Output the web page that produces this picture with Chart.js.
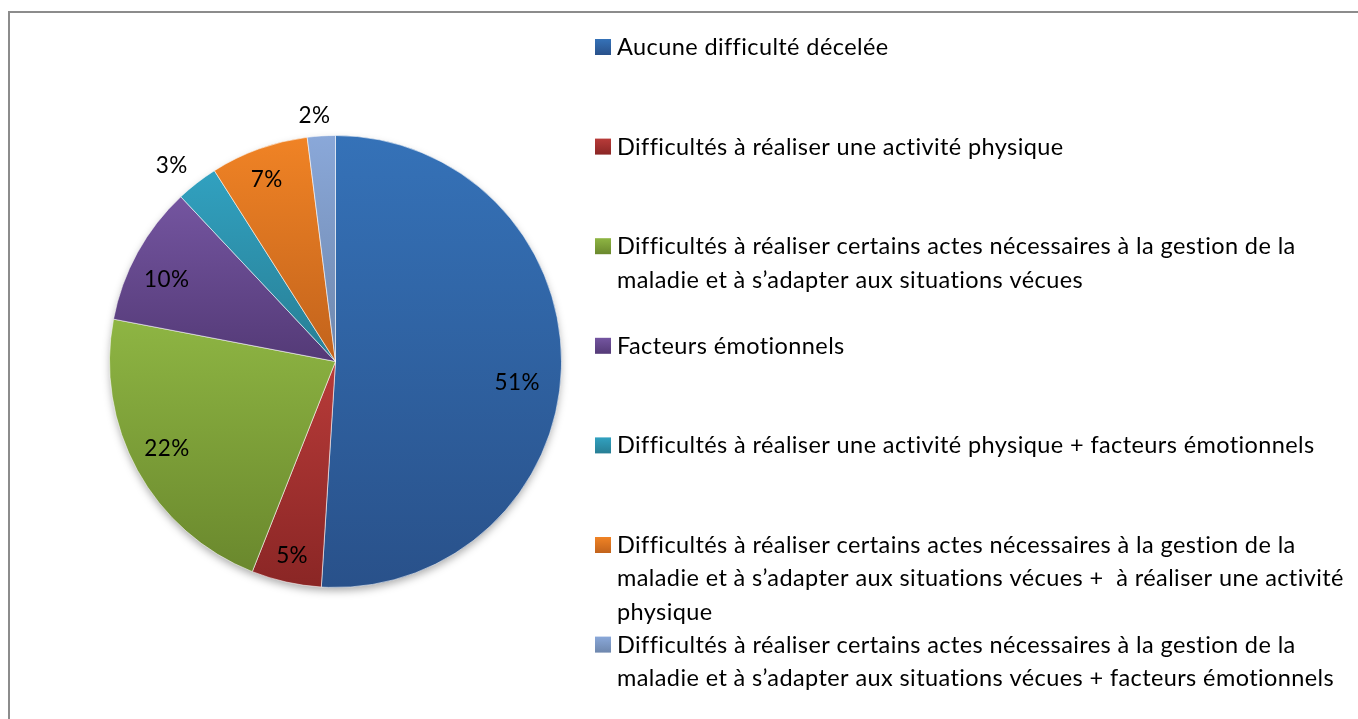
<!DOCTYPE html>
<html lang="fr">
<head>
<meta charset="utf-8">
<title>Difficultés décelées</title>
<script src="https://cdn.jsdelivr.net/npm/chart.js@4.4.0/dist/chart.umd.min.js"></script>
<style>
  html, body { margin: 0; padding: 0; background: #fff; }
  body { width: 1358px; height: 719px; position: relative; overflow: hidden; }
  #frame {
    position: absolute; left: 8px; top: 11px; right: -10px; bottom: -10px;
    border-left: 2px solid #8c8c8c; border-top: 2px solid #8c8c8c;
  }
  #wrap { position: absolute; left: 0; top: 0; width: 1358px; height: 719px; }
</style>
</head>
<body>
<div id="frame"></div>
<div id="wrap"><canvas id="difficultesChart"></canvas></div>
<script>
// categories, one array of legend lines per slice
const categories = [
  ['Aucune difficulté décelée'],
  ['Difficultés à réaliser une activité physique'],
  ['Difficultés à réaliser certains actes nécessaires à la gestion de la',
   'maladie et à s’adapter aux situations vécues'],
  ['Facteurs émotionnels'],
  ['Difficultés à réaliser une activité physique + facteurs émotionnels'],
  ['Difficultés à réaliser certains actes nécessaires à la gestion de la',
   'maladie et à s’adapter aux situations vécues +  à réaliser une activité',
   'physique'],
  ['Difficultés à réaliser certains actes nécessaires à la gestion de la',
   'maladie et à s’adapter aux situations vécues + facteurs émotionnels']
];
const percentages = [51, 5, 22, 10, 3, 7, 2];

// each slice fades from the first colour (top) to the second (bottom)
const topColors = ['#3572b8', '#b83b39', '#8eb543', '#7455a0', '#31a1c0', '#f08325', '#8aa8d9'];
const bottomColors = ['#29518a', '#8a2625', '#6a882d', '#543a77', '#287e94', '#c2631c', '#6e87ad'];

// label placement: distance from centre (fraction of radius) and angle nudge in degrees
const labelRadius = [0.81, 0.88, 0.84, 0.83, 1.13, 0.86, 1.09];
const labelNudge = [5, 0, 1.4, -2.9, -2.1, -0.9, -1.3];

const FONT = 'Lato, "Open Sans", sans-serif';
const total = percentages.reduce((a, b) => a + b, 0);

function sliceFill(context) {
  const chart = context.chart;
  const i = context.dataIndex;
  const area = chart.chartArea;
  if (!area) return topColors[i];
  const cx = (area.left + area.right) / 2;
  const cy = (area.top + area.bottom) / 2;
  const r = Math.min(area.right - area.left, area.bottom - area.top) / 2;
  let before = 0;
  for (let k = 0; k < i; k++) before += percentages[k];
  const a0 = -Math.PI / 2 + before / total * Math.PI * 2;
  const a1 = a0 + percentages[i] / total * Math.PI * 2;
  let minY = cy, maxY = cy;
  for (let t = 0; t <= 60; t++) {
    const y = cy + r * Math.sin(a0 + (a1 - a0) * t / 60);
    minY = Math.min(minY, y);
    maxY = Math.max(maxY, y);
  }
  const g = chart.ctx.createLinearGradient(0, minY, 0, maxY);
  g.addColorStop(0, topColors[i]);
  g.addColorStop(1, bottomColors[i]);
  return g;
}

// soft shadow under the whole pie
const pieShadow = {
  id: 'pieShadow',
  beforeDatasetsDraw(chart) {
    const arc = chart.getDatasetMeta(0).data[0];
    if (!arc) return;
    const { x, y, outerRadius } = arc.getProps(['x', 'y', 'outerRadius'], true);
    const ctx = chart.ctx;
    ctx.save();
    ctx.shadowColor = 'rgba(0,0,0,0.35)';
    ctx.shadowBlur = 9;
    ctx.shadowOffsetY = 4;
    ctx.fillStyle = '#fff';
    ctx.beginPath();
    ctx.arc(x, y, outerRadius - 1, 0, Math.PI * 2);
    ctx.fill();
    ctx.restore();
  }
};

// percentage labels, small slices get theirs outside the pie
const sliceLabels = {
  id: 'sliceLabels',
  afterDatasetsDraw(chart) {
    const ctx = chart.ctx;
    ctx.save();
    ctx.font = '22.5px ' + FONT;
    ctx.letterSpacing = '0.4px';
    ctx.fillStyle = '#000';
    ctx.textAlign = 'center';
    ctx.textBaseline = 'middle';
    chart.getDatasetMeta(0).data.forEach((arc, i) => {
      const p = arc.getProps(['x', 'y', 'startAngle', 'endAngle', 'outerRadius'], true);
      const mid = (p.startAngle + p.endAngle) / 2 + labelNudge[i] * Math.PI / 180;
      const d = p.outerRadius * labelRadius[i];
      ctx.fillText(percentages[i] + '%', p.x + Math.cos(mid) * d, p.y + Math.sin(mid) * d);
    });
    ctx.restore();
  }
};

// legend on the right, one slot of ~100px per entry
const sideLegend = {
  id: 'sideLegend',
  afterDraw(chart) {
    const ctx = chart.ctx;
    ctx.save();
    ctx.font = '23.5px ' + FONT;
    ctx.letterSpacing = '0.4px';
    ctx.textBaseline = 'alphabetic';
    categories.forEach((lines, i) => {
      const base = 55 + i * 99.6;
      const g = ctx.createLinearGradient(0, base - 16, 0, base);
      g.addColorStop(0, topColors[i]);
      g.addColorStop(1, bottomColors[i]);
      ctx.fillStyle = g;
      ctx.fillRect(595, base - 16, 16, 16);
      ctx.fillStyle = '#000';
      lines.forEach((line, j) => ctx.fillText(line, 617, base + j * 33.3));
    });
    ctx.restore();
  }
};

const ctx = document.getElementById('difficultesChart').getContext('2d');
new Chart(ctx, {
  type: 'pie',
  data: {
    labels: categories,
    datasets: [{
      data: percentages,
      backgroundColor: sliceFill,
      borderColor: 'rgba(255,255,255,0.55)',
      borderWidth: 1
    }]
  },
  options: {
    responsive: true,
    maintainAspectRatio: false,
    animation: false,
    events: [],
    layout: { padding: { left: 109, top: 135, right: 796, bottom: 131 } },
    plugins: {
      legend: { display: false },
      tooltip: { enabled: false }
    }
  },
  plugins: [pieShadow, sliceLabels, sideLegend]
});
</script>
</body>
</html>
